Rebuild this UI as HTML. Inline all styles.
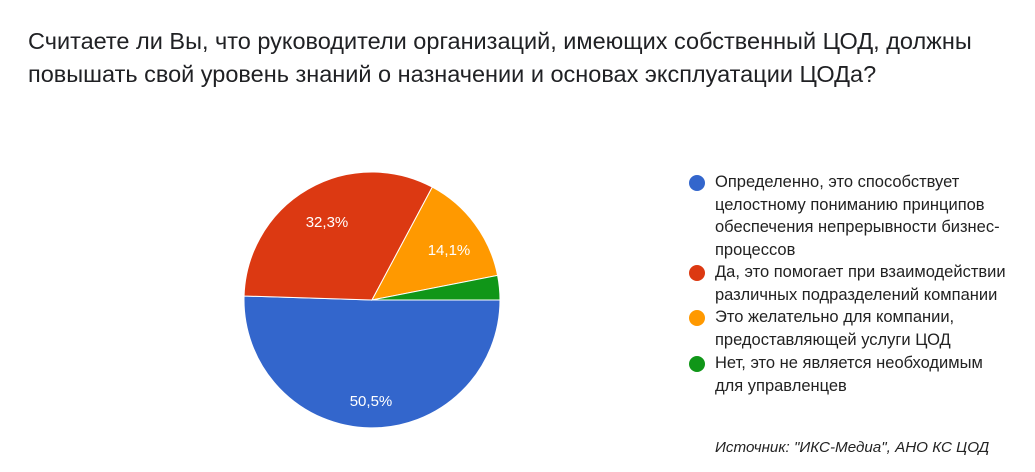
<!DOCTYPE html>
<html><head><meta charset="utf-8"><style>
body{margin:0;background:#fff;width:1035px;height:472px;overflow:hidden;font-family:"Liberation Sans",Arial,sans-serif;}
.t{position:absolute;left:28px;top:25px;font-size:23.5px;line-height:33px;color:#202124;white-space:nowrap;}
.lg{position:absolute;left:715px;font-size:16.5px;line-height:22.6px;color:#222;white-space:nowrap;}
.dot{position:absolute;left:689px;width:16px;height:16px;border-radius:50%;}
.src{position:absolute;left:715px;top:439px;font-size:15.2px;font-style:italic;color:#222;white-space:nowrap;}
</style></head><body>
<div class="t">Считаете ли Вы, что руководители организаций, имеющих собственный ЦОД, должны<br>повышать свой уровень знаний о назначении и основах эксплуатации ЦОДа?</div>
<svg width="1035" height="472" style="position:absolute;left:0;top:0">
<path d="M372,300 L500,300 A128,128 0 1 1 244.06,296 Z" fill="#3366cc" stroke="#fff" stroke-width="1"/>
<path d="M372,300 L244.06,296 A128,128 0 0 1 432.3,187.1 Z" fill="#dc3912" stroke="#fff" stroke-width="1"/>
<path d="M372,300 L432.3,187.1 A128,128 0 0 1 497.6,275.4 Z" fill="#ff9900" stroke="#fff" stroke-width="1"/>
<path d="M372,300 L497.6,275.4 A128,128 0 0 1 500,300 Z" fill="#109618" stroke="#fff" stroke-width="1"/>
<g fill="#fff" font-size="15" font-family="Liberation Sans,Arial,sans-serif" text-anchor="middle">
<text x="327" y="227">32,3%</text>
<text x="449" y="255">14,1%</text>
<text x="371" y="406">50,5%</text>
</g></svg>
<div class="dot" style="top:175px;background:#3366cc"></div>
<div class="lg" style="top:171px">Определенно, это способствует<br>целостному пониманию принципов<br>обеспечения непрерывности бизнес-<br>процессов</div>
<div class="dot" style="top:265px;background:#dc3912"></div>
<div class="lg" style="top:261px">Да, это помогает при взаимодействии<br>различных подразделений компании</div>
<div class="dot" style="top:310px;background:#ff9900"></div>
<div class="lg" style="top:306px">Это желательно для компании,<br>предоставляющей услуги ЦОД</div>
<div class="dot" style="top:356px;background:#109618"></div>
<div class="lg" style="top:352px">Нет, это не является необходимым<br>для управленцев</div>
<div class="src">Источник: "ИКС-Медиа", АНО КС ЦОД</div>
</body></html>
